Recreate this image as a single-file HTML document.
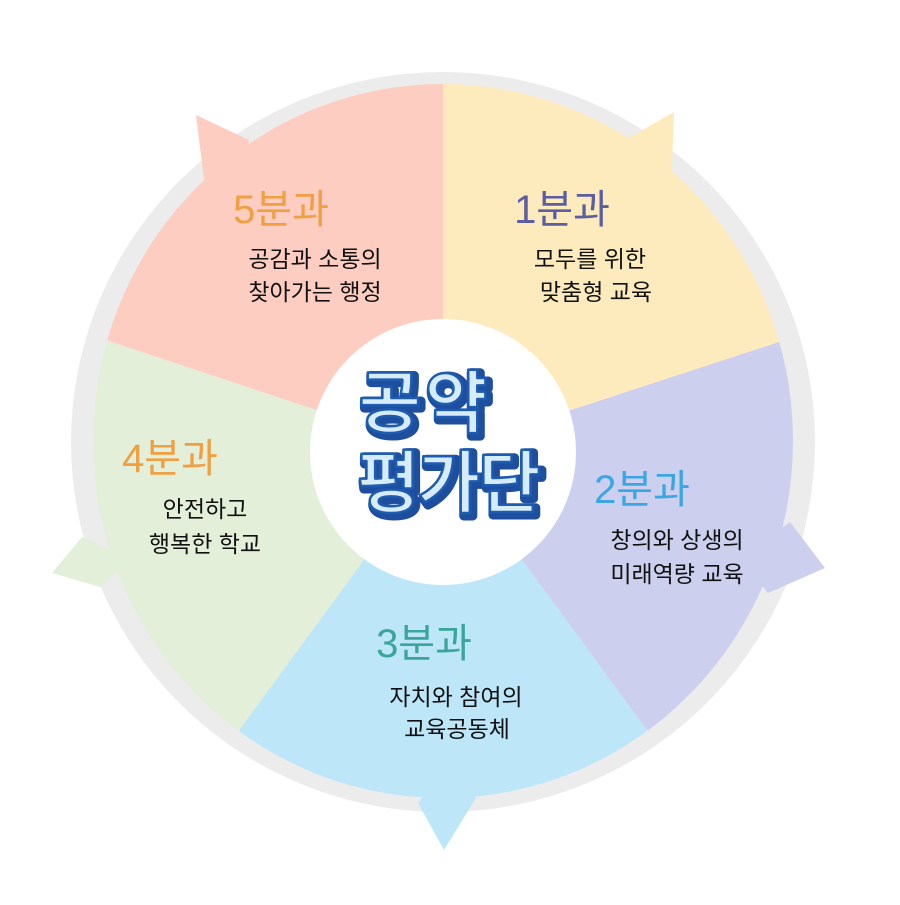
<!DOCTYPE html>
<html><head><meta charset="utf-8"><style>
html,body{margin:0;padding:0;background:#fff}
svg{display:block}
text{font-family:"Liberation Sans","Noto Sans CJK KR",sans-serif}
</style></head><body>
<svg width="900" height="905" viewBox="0 0 900 905" xmlns="http://www.w3.org/2000/svg">
<defs>
<clipPath id="c"><ellipse cx="443" cy="441" rx="350" ry="357"/></clipPath>
</defs>
<ellipse cx="443" cy="442" rx="372" ry="370" fill="#ececec"/>
<g clip-path="url(#c)">
<polygon points="443,452 443,0 900,0 900,300 776,343" fill="#fdebbe"/>
<polygon points="443,452 776,343 900,300 900,905 646,729" fill="#ccd0ee"/>
<polygon points="443,452 646,729 700,905 200,905 240,729" fill="#bde7f9"/>
<polygon points="443,452 240,729 0,905 0,300 115,343" fill="#e3efd8"/>
<polygon points="443,452 115,343 0,300 0,0 443,0" fill="#fccdc0"/>
</g>
<polygon points="196,115 249,140 240,200 206,195" fill="#fccdc0"/>
<polygon points="674,112 625,140 640,200 671,190" fill="#fdebbe"/>
<polygon points="825,568 790,522 740,560 768,593" fill="#ccd0ee"/>
<polygon points="444,850 418,803 445,770 476,798" fill="#bde7f9"/>
<polygon points="52,573 82,537 130,560 100,587" fill="#e3efd8"/>
<circle cx="443" cy="452" r="133" fill="#fff"/>
<g font-weight="bold" font-size="68" text-anchor="middle" stroke-linejoin="round">
<text x="428" y="430" fill="#1e4f9e" stroke="#1e4f9e" stroke-width="9" letter-spacing="4">공약</text>
<text x="451" y="510" fill="#1e4f9e" stroke="#1e4f9e" stroke-width="9" letter-spacing="-2">평가단</text>
<text x="425" y="427" fill="#d6ecfa" stroke="#1e5cb0" stroke-width="2.5" letter-spacing="4">공약</text>
<text x="448" y="507" fill="#d6ecfa" stroke="#1e5cb0" stroke-width="2.5" letter-spacing="-2">평가단</text>
</g>
<g font-size="40" text-anchor="middle">
<text x="281" y="223" fill="#f0a043">5분과</text>
<text x="562" y="223" fill="#5b5fa2">1분과</text>
<text x="642" y="503" fill="#3ba6e2">2분과</text>
<text x="424" y="657" fill="#3aa59a">3분과</text>
<text x="170" y="472" fill="#f0a043">4분과</text>
</g>
<g font-size="23" text-anchor="middle" fill="#111">
<text x="315" y="267">공감과 소통의</text>
<text x="315" y="300">찾아가는 행정</text>
<text x="590" y="267">모두를 위한</text>
<text x="596" y="300">맞춤형 교육</text>
<text x="677" y="548">창의와 상생의</text>
<text x="677" y="582">미래역량 교육</text>
<text x="456" y="705">자치와 참여의</text>
<text x="457" y="737">교육공동체</text>
<text x="205" y="517">안전하고</text>
<text x="205" y="552">행복한 학교</text>
</g>
</svg>
</body></html>
